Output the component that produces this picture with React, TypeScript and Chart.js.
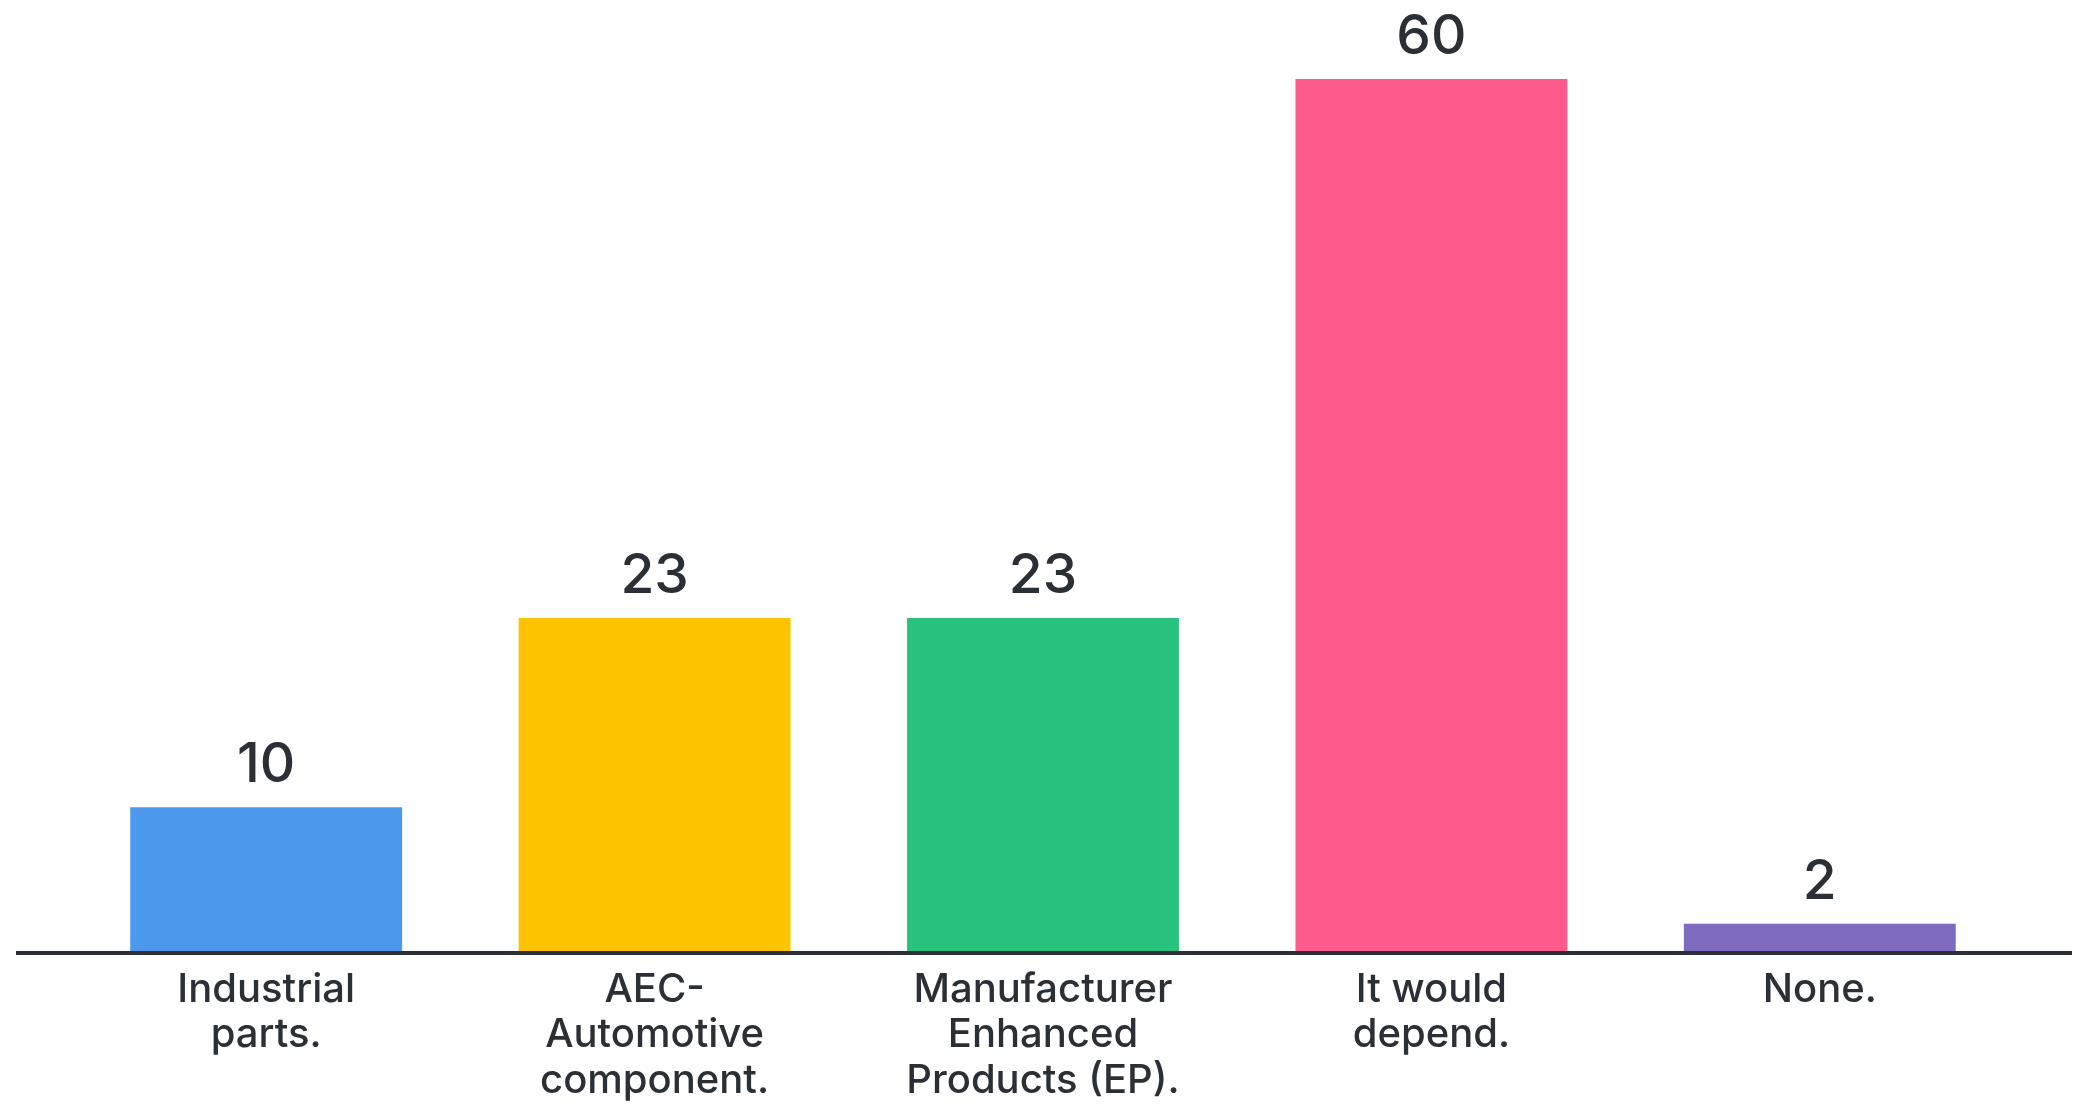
import React, { useEffect, useRef } from "react";
import { Chart, registerables } from "chart.js";

Chart.register(...registerables);

const categories: string[][] = [
  ["Industrial", "parts."],
  ["AEC-", "Automotive", "component."],
  ["Manufacturer", "Enhanced", "Products (EP)."],
  ["It would", "depend."],
  ["None."],
];
const values: number[] = [10, 23, 23, 60, 2];
const barColors: string[] = ["#4C98EC", "#FDC300", "#29C27E", "#FE5A8C", "#7E6BC0"];

const TEXT_COLOR = "#2B2F36";
const FONT_FAMILY = "Inter, 'Noto Sans', sans-serif";

export default function App() {
  const canvasRef = useRef<HTMLCanvasElement | null>(null);

  useEffect(() => {
    document.body.style.margin = "0";
    const canvas = canvasRef.current;
    if (!canvas) return;

    const valueLabels = {
      id: "valueLabels",
      afterDatasetsDraw(chart: any) {
        const ctx = chart.ctx;
        const yScale = chart.scales.y;
        const y0 = yScale.getPixelForValue(0);
        // baseline axis line
        ctx.save();
        ctx.strokeStyle = TEXT_COLOR;
        ctx.lineWidth = 4;
        ctx.beginPath();
        ctx.moveTo(16, y0);
        ctx.lineTo(chart.width - 13, y0);
        ctx.stroke();
        // value labels
        const meta = chart.getDatasetMeta(0);
        ctx.fillStyle = TEXT_COLOR;
        ctx.font = `500 55px ${FONT_FAMILY}`;
        ctx.textAlign = "center";
        ctx.textBaseline = "alphabetic";
        meta.data.forEach((el: any, i: number) => {
          ctx.fillText(String(values[i]), el.x, el.y - 25);
        });
        ctx.restore();
      },
    };

    const chart = new Chart(canvas, {
      type: "bar",
      data: {
        labels: categories as any,
        datasets: [
          {
            data: values,
            backgroundColor: barColors,
            borderWidth: 0,
            categoryPercentage: 0.7,
            barPercentage: 1,
          },
        ],
      },
      options: {
        animation: false,
        responsive: true,
        maintainAspectRatio: false,
        layout: { padding: { top: 79, left: 72, right: 71, bottom: 0 } },
        plugins: {
          legend: { display: false },
          tooltip: { enabled: false },
        },
        scales: {
          x: {
            border: { display: false },
            grid: { display: false },
            ticks: {
              color: TEXT_COLOR,
              padding: 6,
              maxRotation: 0,
              autoSkip: false,
              font: { family: FONT_FAMILY, size: 40, weight: 500 as any, lineHeight: 1.14 },
            },
            afterFit(scale: any) {
              scale.height = 152;
            },
          },
          y: {
            display: false,
            min: 0,
            max: 60,
          },
        },
      },
      plugins: [valueLabels],
    });

    return () => chart.destroy();
  }, []);

  return (
    <div style={{ position: "fixed", left: 0, top: 0, width: 2085, height: 1105, background: "#ffffff" }}>
      <canvas ref={canvasRef} />
    </div>
  );
}
